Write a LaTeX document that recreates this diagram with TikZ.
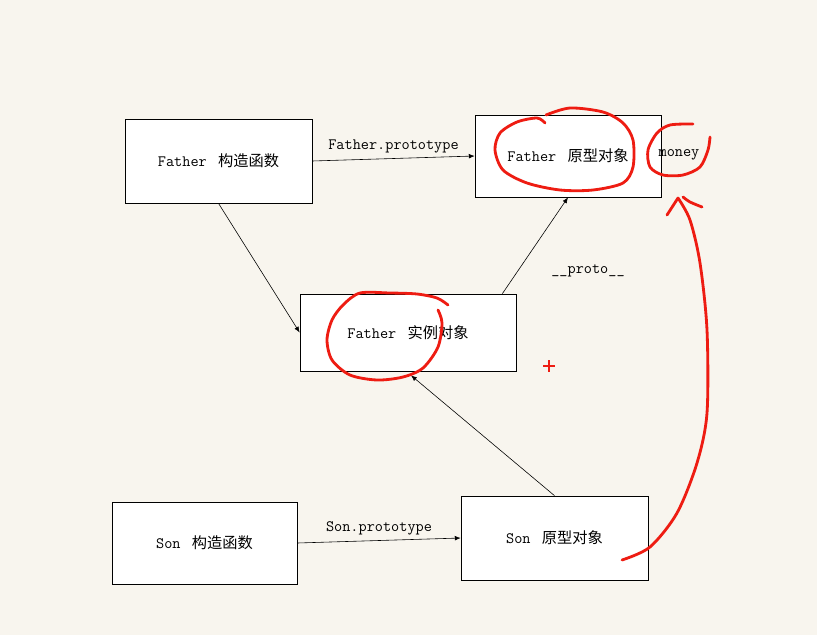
\documentclass[tikz,border=0pt]{standalone}
\usepackage{fontspec}
\newfontfamily\cjk{Noto Sans CJK SC}
\usetikzlibrary{arrows.meta,calc}
\definecolor{paper}{RGB}{248,245,238}
\definecolor{pen}{RGB}{238,28,18}
\newcommand{\zh}[1]{\hspace{0.2em}{\cjk\fontsize{13}{15}\selectfont #1}}
\tikzset{
	objbox/.style={rectangle, draw, fill=white, line width=0.6pt, inner sep=0pt},
	link/.style={-{Latex[length=5pt,width=4pt]}, line width=0.5pt},
	ink/.style={pen, line width=2.4pt, line cap=round, line join=round}
}

\begin{document}
\begin{tikzpicture}[x=0.03cm, y=-0.03cm, font=\fontsize{13.5}{15}\selectfont\ttfamily]
		\fill[paper] (0,0) rectangle (817,635);
		\useasboundingbox (0,0) rectangle (817,635);
		
		\node[objbox, minimum width=5.61cm, minimum height=2.52cm] (fc) at (218.5,161) {Father~\zh{构造函数}};
		\node[objbox, minimum width=5.58cm, minimum height=2.46cm] (fp) at (568,156) {Father~\zh{原型对象}};
		\node[objbox, minimum width=6.48cm, minimum height=2.31cm] (fi) at (408,332.5) {Father~\zh{实例对象}};
		\node[objbox, minimum width=5.55cm, minimum height=2.46cm] (sc) at (204.5,543) {Son~\zh{构造函数}};
		\node[objbox, minimum width=5.61cm, minimum height=2.52cm] (sp) at (554.5,538) {Son~\zh{原型对象}};
		
		\draw[link] (fc.east) -- node[above=1pt] (fplab) {Father.prototype} (fp.west);
		\draw[link] (fc.south) -- (fi.west);
		\draw[link] ($(fi.north east)+(-14,0)$) -- (fp.south);
		\draw[link] (sc.east) -- node[above=1pt] (splab) {Son.prototype} (sp.west);
		\draw[link] (sp.north) -- ($(fi.south)+(3,4)$);
		\node (proto) at (588,271) {\_\_proto\_\_};
		\node (money) at (679,155) {money};
		
		\draw[ink] plot[smooth] coordinates {(546,115) (570,108) (603,112) (623,123) (633,140) (633,167) (623,183) (593,190) (560,190) (527,183) (503,170) (495,150) (500,133) (517,122) (537,118) (545,123)};
		\draw[ink] plot[smooth] coordinates {(710,137) (708,150) (700,167) (683,175) (663,175) (650,167) (648,150) (657,133) (670,125) (693,124)};
		\draw[ink] plot[smooth] coordinates {(448,305) (437,298) (417,294) (390,293) (360,293) (343,305) (332,320) (327,340) (332,360) (350,375) (377,380) (403,377) (423,368) (438,347) (442,323) (438,310)};
		
		\coordinate (rstart) at (622,560);
		\coordinate (rtip) at (678,198);
		\draw[ink] plot[smooth] coordinates {(rstart) (650,547) (677,513) (697,463) (707,413) (707,330) (700,263) (690,220) (rtip)};
		\draw[ink] (rtip) -- (667,215);
		\draw[ink] plot[smooth] coordinates {(683,197) (690,202) (702,207)};
		
		\draw[pen, line width=1.6pt] (543,366) -- (555,366) (549,360) -- (549,372);
		
	\end{tikzpicture}
\end{document}
